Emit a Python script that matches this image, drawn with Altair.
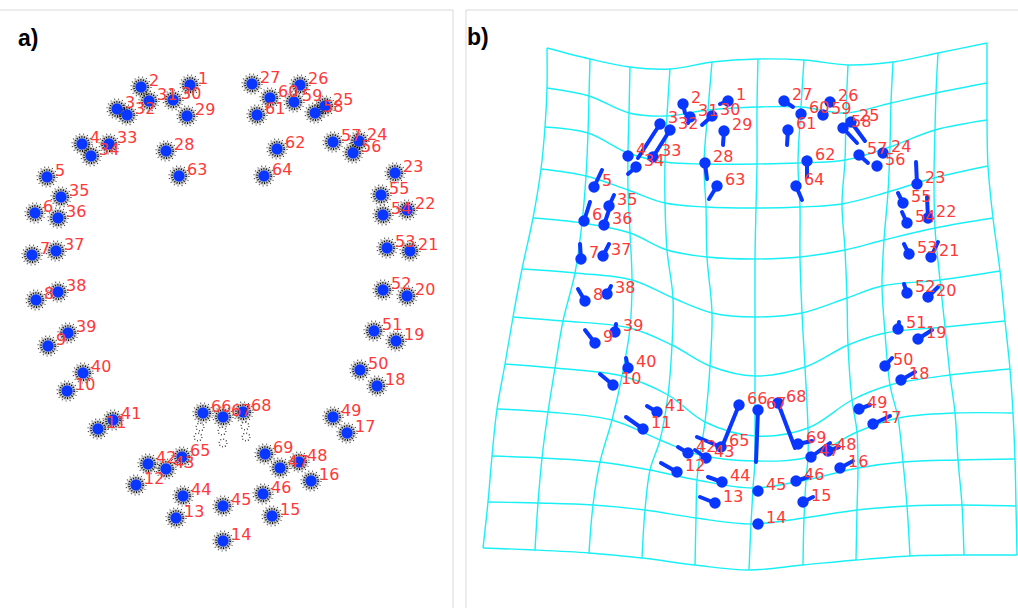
import altair as alt
import pandas as pd

W, H = 1018, 608

# ---------------- panel a: landmark means (pixel-like coordinates) ----------------
A_ID = list(range(1, 70))
A_X = [190, 141, 117, 82, 47, 35, 32, 36, 48, 67, 98, 136, 176, 223, 272, 311, 347, 377, 396, 407,
       410, 407, 395, 359, 325, 300, 252, 166, 187, 173, 149, 127, 109, 91, 61, 58, 56, 58, 68, 83,
       113, 148, 166, 183, 223, 263, 280, 299, 333, 360, 374, 383, 387, 383, 381, 353, 333, 315, 294, 270,
       257, 277, 179, 264, 182, 203, 223, 243, 265]
A_Y = [85, 87, 109, 144, 177, 213, 255, 300, 346, 391, 429, 485, 518, 541, 516, 481, 433, 386, 341, 296,
       251, 210, 173, 141, 106, 85, 84, 151, 116, 100, 101, 115, 144, 156, 197, 218, 251, 292, 333, 373,
       420, 464, 469, 496, 506, 494, 468, 462, 417, 370, 331, 290, 248, 215, 195, 153, 142, 113, 102, 98,
       115, 149, 176, 176, 457, 413, 417, 412, 454]
# extra cloud spread below the three mouth-top landmarks
TAIL_X = [200, 222, 245, 198, 223, 246]
TAIL_Y = [427, 431, 426, 437, 443, 437]

# ---------------- panel b: landmarks after warping and stem ends ----------------
B_X = [728, 683, 660, 628, 594, 584, 581, 585, 595, 613, 643, 677, 715, 758, 803, 840, 873, 901, 918, 928,
       931, 928, 917, 883, 851, 830, 784, 705, 724, 712, 690, 670, 653, 636, 609, 604, 603, 607, 615, 628,
       657, 688, 706, 722, 758, 796, 811, 828, 859, 885, 898, 907, 909, 907, 903, 877, 859, 843, 823, 801,
       788, 807, 717, 796, 721, 739, 758, 778, 798]
B_Y = [101, 104, 124, 156, 187, 221, 259, 301, 343, 385, 429, 472, 503, 524, 502, 468, 424, 380, 339, 297,
       257, 218, 184, 153, 122, 102, 101, 163, 131, 116, 117, 130, 157, 167, 206, 225, 256, 294, 332, 368,
       412, 453, 458, 482, 491, 481, 457, 451, 409, 366, 329, 293, 254, 223, 203, 166, 155, 128, 115, 114,
       130, 161, 186, 186, 447, 405, 410, 403, 444]
B_TX = [720, 685, 638, 628, 602, 590, 580, 578, 585, 600, 626, 661, 700, 758, 813, 853, 890, 915, 932, 938,
        938, 927, 916, 883, 865, 830, 793, 707, 723, 702, 688, 653, 653, 628, 614, 609, 609, 611, 616, 626,
        647, 678, 695, 708, 758, 808, 830, 839, 870, 892, 899, 904, 904, 902, 898, 877, 868, 857, 823, 801,
        787, 807, 709, 802, 697, 722, 756, 795, 812]
B_TY = [104, 113, 158, 156, 170, 202, 244, 289, 330, 374, 417, 463, 497, 524, 497, 461, 416, 372, 330, 287,
        242, 197, 162, 153, 141, 102, 107, 179, 145, 125, 123, 157, 157, 174, 195, 210, 244, 286, 324, 358,
        406, 447, 450, 477, 491, 477, 443, 447, 405, 358, 322, 284, 244, 212, 193, 166, 163, 143, 115, 114,
        145, 177, 199, 200, 437, 447, 462, 448, 441]

# ---------------- warped grid: column x per row, row y per column ----------------
GRID_COL_X = [
    [547, 547, 545, 541, 533, 522, 513, 505, 497, 492, 488, 483],
    [590, 589, 588, 586, 582, 575, 563, 555, 548, 542, 538, 535],
    [630, 629, 628, 628, 630, 632, 630, 622, 612, 600, 593, 589],
    [670, 667, 665, 665, 667, 673, 672, 668, 660, 650, 645, 642],
    [712, 708, 704, 706, 707, 712, 710, 705, 700, 697, 696, 695],
    [758, 757, 757, 756, 755, 755, 755, 755, 755, 753, 751, 749],
    [804, 801, 798, 800, 800, 802, 805, 808, 808, 806, 804, 803],
    [848, 846, 845, 842, 845, 847, 848, 852, 857, 858, 857, 856],
    [893, 891, 890, 888, 884, 882, 885, 890, 898, 903, 907, 910],
    [938, 936, 935, 934, 935, 940, 945, 950, 955, 958, 962, 964],
    [987, 987, 987, 988, 993, 1000, 1005, 1010, 1013, 1015, 1016, 1017],
]
GRID_ROW_Y = [
    [48, 59, 67, 69, 62, 59, 60, 65, 62, 53, 43],
    [88, 96, 113, 116, 110, 107, 107, 113, 103, 93, 83],
    [127, 133, 153, 162, 164, 164, 163, 160, 147, 130, 120],
    [169, 176, 190, 203, 207, 208, 207, 204, 192, 178, 166],
    [218, 223, 233, 250, 257, 259, 257, 250, 240, 228, 218],
    [269, 273, 280, 298, 313, 317, 313, 298, 286, 280, 271],
    [317, 321, 328, 345, 366, 376, 367, 345, 333, 327, 321],
    [364, 368, 376, 395, 422, 436, 428, 400, 385, 375, 369],
    [409, 412, 420, 440, 455, 461, 457, 432, 418, 413, 413],
    [456, 458, 462, 470, 480, 488, 480, 468, 462, 460, 459],
    [502, 503, 505, 510, 518, 524, 518, 510, 506, 505, 506],
    [548, 550, 553, 558, 565, 570, 565, 560, 556, 555, 555],
]

PANEL_TITLES = ["a)", "b)"]
TITLE_X = [18, 467]
TITLE_Y = [39, 38]

BORDER_X = [0, 453, 466, 466]
BORDER_Y = [10, 10, 10, 10]
BORDER_X2 = [453, 453, 1018, 466]
BORDER_Y2 = [10, 608, 10, 608]

BLUE = "#0a37ff"
RED = "#ff3838"
CYAN = "#19f0f5"

# ---------------- tables ----------------
df_a = pd.DataFrame({"id": [str(i) for i in A_ID], "x": A_X, "y": A_Y})
df_tail = pd.DataFrame({"x": TAIL_X, "y": TAIL_Y})
df_b = pd.DataFrame({"id": [str(i) for i in A_ID], "x": B_X, "y": B_Y, "x2": B_TX, "y2": B_TY})

rows = []
nr, nc = len(GRID_ROW_Y), len(GRID_COL_X)
for r in range(nr):
    for c in range(nc):
        x, y = GRID_COL_X[c][r], GRID_ROW_Y[r][c]
        rows.append({"key": f"r{r}", "ord": c, "x": x, "y": y})
        rows.append({"key": f"c{c}", "ord": r, "x": x, "y": y})
df_grid = pd.DataFrame(rows)

df_titles = pd.DataFrame({"t": PANEL_TITLES, "x": TITLE_X, "y": TITLE_Y})
df_border = pd.DataFrame({"x": BORDER_X, "y": BORDER_Y, "x2": BORDER_X2, "y2": BORDER_Y2})

xs = alt.Scale(domain=[0, W], nice=False, zero=False)
ys = alt.Scale(domain=[0, H], nice=False, zero=False, reverse=True)
X = alt.X("x:Q", scale=xs, axis=None)
Y = alt.Y("y:Q", scale=ys, axis=None)

border = alt.Chart(df_border).mark_rule(color="#d9d9d9", strokeWidth=1).encode(
    x=X, y=Y, x2="x2:Q", y2="y2:Q")

titles = alt.Chart(df_titles).mark_text(
    align="left", baseline="middle", fontSize=23, fontWeight="bold",
    font="Liberation Sans", color="black").encode(x=X, y=Y, text="t:N")

# clouds (panel a)
halo = alt.Chart(df_a).mark_point(shape="circle", filled=True, color="black",
                                  opacity=0.22, size=330).encode(x=X, y=Y)
ring1 = alt.Chart(df_a).mark_point(shape="circle", filled=False, color="black",
                                   strokeDash=[1, 1.5], strokeWidth=1.8, opacity=0.95,
                                   size=200).encode(x=X, y=Y)
ring2 = alt.Chart(df_a).mark_point(shape="circle", filled=False, color="black",
                                   strokeDash=[1, 3], strokeWidth=1.2, opacity=0.75,
                                   size=400).encode(x=X, y=Y)
tail = alt.Chart(df_tail).mark_point(shape="circle", filled=False, color="black",
                                     strokeDash=[1, 2], strokeWidth=1.3, opacity=0.8,
                                     size=60).encode(x=X, y=Y)
dots_a = alt.Chart(df_a).mark_point(shape="circle", filled=True, color=BLUE,
                                    opacity=1, size=130).encode(x=X, y=Y)
labels_a = alt.Chart(df_a).mark_text(align="left", baseline="middle", dx=8, dy=-6,
                                     fontSize=16, font="DejaVu Sans", color=RED).encode(
    x=X, y=Y, text="id:N")

# panel b
grid = alt.Chart(df_grid).mark_line(color=CYAN, strokeWidth=1.4,
                                    interpolate="catmull-rom").encode(
    x=X, y=Y, detail="key:N", order="ord:Q")
stems = alt.Chart(df_b).mark_rule(color=BLUE, strokeWidth=4, strokeCap="round").encode(
    x=X, y=Y, x2="x2:Q", y2="y2:Q")
dots_b = alt.Chart(df_b).mark_point(shape="circle", filled=True, color=BLUE,
                                    opacity=1, size=130).encode(x=X, y=Y)
labels_b = alt.Chart(df_b).mark_text(align="left", baseline="middle", dx=8, dy=-6,
                                     fontSize=16, font="DejaVu Sans", color=RED).encode(
    x=X, y=Y, text="id:N")

chart = alt.layer(
    border, titles, halo, ring2, ring1, tail, dots_a, labels_a,
    grid, stems, dots_b, labels_b
).properties(
    width=W, height=H, padding=0, autosize=alt.AutoSizeParams(type="none")
).configure_view(stroke=None)

chart.save("out.html", embed_options={"renderer": "svg", "actions": False})
